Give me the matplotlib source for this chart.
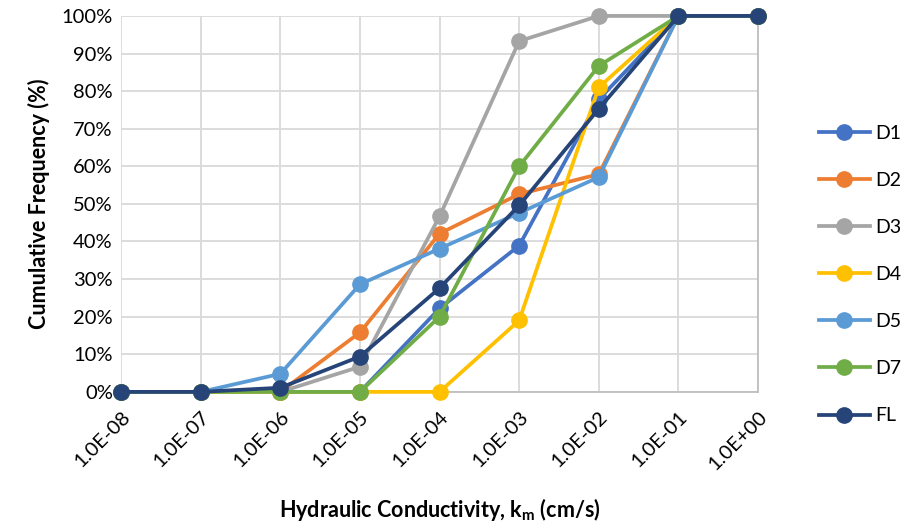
import matplotlib.pyplot as plt

# category axis (evenly spaced in the original chart)
k_labels = ['1.0E-08', '1.0E-07', '1.0E-06', '1.0E-05', '1.0E-04',
            '1.0E-03', '1.0E-02', '1.0E-01', '1.0E+00']

series_names = ['D1', 'D2', 'D3', 'D4', 'D5', 'D7', 'FL']
d1 = [0, 0, 0, 0, 22.2, 38.9, 77.8, 100, 100]
d2 = [0, 0, 0, 15.8, 42.1, 52.6, 57.9, 100, 100]
d3 = [0, 0, 0, 6.7, 46.7, 93.3, 100, 100, 100]
d4 = [0, 0, 0, 0, 0, 19.0, 81.0, 100, 100]
d5 = [0, 0, 4.8, 28.6, 38.1, 47.6, 57.1, 100, 100]
d7 = [0, 0, 0, 0, 20.0, 60.0, 86.7, 100, 100]
fl = [0, 0, 1.1, 9.4, 27.6, 49.6, 75.3, 100, 100]

colors = ['#4472C4', '#ED7D31', '#A5A5A5', '#FFC000', '#5B9BD5', '#70AD47', '#264478']

plt.rcParams['font.family'] = ['Lato', 'DejaVu Sans']

fig = plt.figure(figsize=(9.04, 5.31), dpi=100)
ax = fig.add_axes([0.134, 0.262, 0.7045, 0.708])

x = list(range(len(k_labels)))
for name, vals, c in zip(series_names, [d1, d2, d3, d4, d5, d7, fl], colors):
    ax.plot(x, vals, color=c, lw=2.7, marker='o', markersize=11,
            label=name, clip_on=False, zorder=3)

ax.set_xlim(0, len(k_labels) - 1)
ax.set_ylim(0, 100)
ax.set_xticks(x)
ax.set_xticklabels(k_labels, rotation=45, ha='right', rotation_mode='anchor',
                   fontsize=14.5)
ax.set_yticks(range(0, 101, 10))
ax.set_yticklabels([f'{v}%' for v in range(0, 101, 10)], fontsize=14.5)
ax.tick_params(length=0, pad=6)
ax.tick_params(axis='x', pad=12)

ax.grid(True, color='#D9D9D9', lw=1.3)
ax.set_axisbelow(True)
for side in ['top', 'left']:
    ax.spines[side].set_visible(False)
for side in ['bottom', 'right']:
    ax.spines[side].set_color('#BFBFBF')
    ax.spines[side].set_linewidth(1.3)

ax.set_ylabel('Cumulative Frequency (%)', fontsize=15.5, fontweight='bold', labelpad=8)
ax.set_xlabel('Hydraulic Conductivity, k$_\\mathregular{m}$ (cm/s)',
              fontsize=15.5, fontweight='bold', labelpad=16)

fig.legend(loc='center left', bbox_to_anchor=(0.906, 0.483), frameon=False,
           fontsize=14, handlelength=2.6, labelspacing=1.55, handletextpad=0.3,
           borderaxespad=0, borderpad=0)

fig.savefig('out.png', dpi=100)
